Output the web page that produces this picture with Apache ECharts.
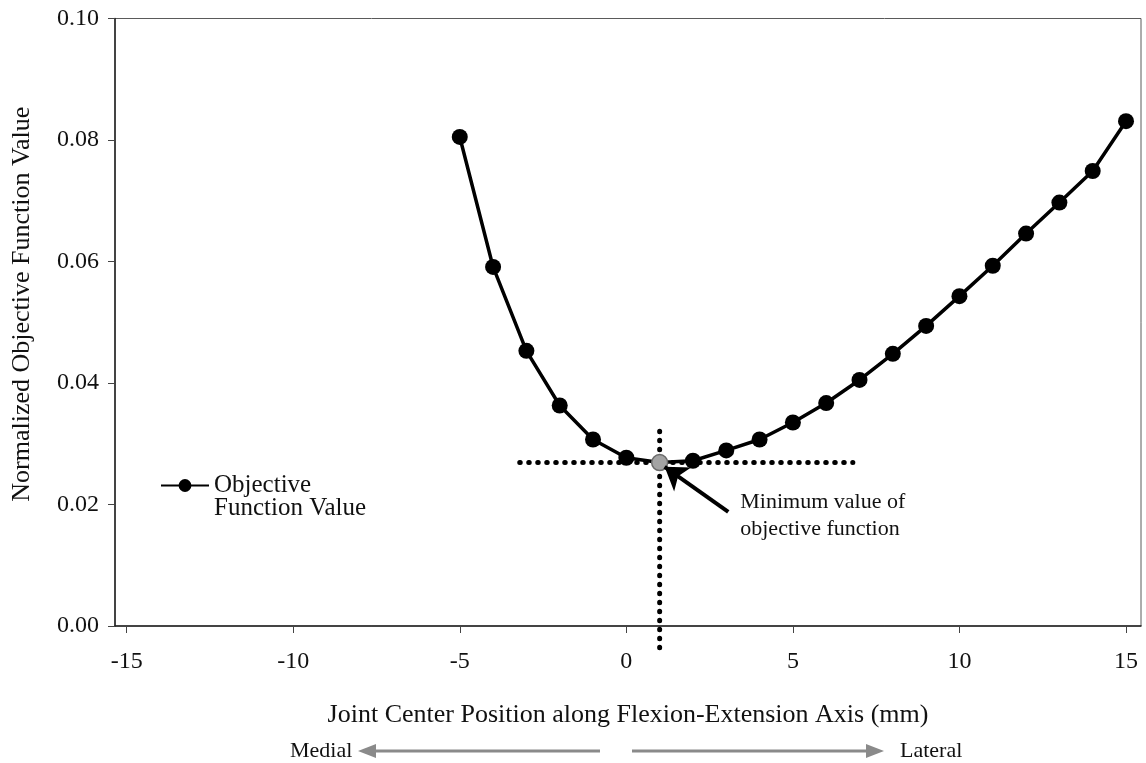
<!DOCTYPE html>
<html>
<head>
<meta charset="utf-8">
<script src="https://cdn.jsdelivr.net/npm/echarts@6/dist/echarts.min.js"></script>
<style>
  html, body { margin: 0; padding: 0; background: #ffffff; }
  #chart { width: 1146px; height: 763px; }
</style>
</head>
<body>
<div id="chart"></div>
<script>
// Joint centre offset along the flexion-extension axis (mm)
const positions = [-5, -4, -3, -2, -1, 0, 1, 2, 3, 4, 5, 6, 7, 8, 9, 10, 11, 12, 13, 14, 15];
// Normalized objective function value at each offset
const objectiveValues = [0.0805, 0.0591, 0.0453, 0.0363, 0.0307, 0.0277, 0.0269, 0.0272, 0.0289, 0.0307,
  0.0335, 0.0367, 0.0405, 0.0448, 0.0494, 0.0543, 0.0593, 0.0646, 0.0697, 0.0749, 0.0831];
// Tick labels
const xTicks = [-15, -10, -5, 0, 5, 10, 15];
const yTicks = [0, 0.02, 0.04, 0.06, 0.08, 0.10];
// Dotted guides through the minimum
const minGuideX = [-3.2, 6.8];
const minGuideY = [-0.0036, 0.0326];
// Callout arrow (tail, tip) and its text anchor
const calloutArrow = [[3.06, 0.0188], [1.15, 0.0262]];
const calloutText = [3.42, 0.0181];

const serif = '"Liberation Serif", "Times New Roman", serif';
const minIndex = objectiveValues.indexOf(Math.min(...objectiveValues));
const minX = positions[minIndex];
const minY = objectiveValues[minIndex];

const chart = echarts.init(document.getElementById('chart'), null, { renderer: 'canvas' });

const option = {
  backgroundColor: '#ffffff',
  animation: false,
  grid: {
    left: 115, right: 5, top: 18.5, bottom: 137,
    show: true, borderColor: '#5a5a5a', borderWidth: 1, backgroundColor: 'transparent'
  },
  legend: {
    left: 160, top: 450,
    padding: 0,
    itemWidth: 48, itemHeight: 16,
    data: ['Objective Function Value'],
    // blank first line keeps "Objective" level with the legend symbol
    formatter: () => ' \nObjective\nFunction Value',
    textStyle: { fontFamily: serif, fontSize: 25, color: '#111', lineHeight: 23 }
  },
  xAxis: {
    type: 'value',
    min: -15.35, max: 15.45,
    name: 'Joint Center Position along Flexion-Extension Axis (mm)',
    nameLocation: 'middle', nameGap: 76,
    nameTextStyle: { fontFamily: serif, fontSize: 26, color: '#111' },
    axisLine: { onZero: false, lineStyle: { color: '#222', width: 1.5 } },
    axisTick: { show: true, inside: false, length: 7, customValues: xTicks, lineStyle: { color: '#444' } },
    axisLabel: { customValues: xTicks, margin: 24, fontFamily: serif, fontSize: 24, color: '#111',
      formatter: v => String(Math.round(v)) },
    splitLine: { show: false }
  },
  yAxis: {
    type: 'value',
    min: 0, max: 0.1, interval: 0.02,
    name: 'Normalized Objective Function Value',
    nameLocation: 'middle', nameGap: 80, nameRotate: 90,
    nameTextStyle: { fontFamily: serif, fontSize: 26, color: '#111', padding: [0, 0, 0, 36] },
    axisLine: { show: true, onZero: false, lineStyle: { color: '#222', width: 1.5 } },
    axisTick: { show: true, inside: false, length: 7, lineStyle: { color: '#444' } },
    axisLabel: { margin: 16, fontFamily: serif, fontSize: 24, color: '#111',
      formatter: v => yTicks.reduce((a, t) => Math.abs(t - v) < Math.abs(a - v) ? t : a).toFixed(2) },
    splitLine: { show: false }
  },
  series: [
    {
      name: 'minGuideH',
      type: 'line',
      data: minGuideX.map(x => [x, minY]),
      symbol: 'none',
      clip: false,
      z: 1,
      lineStyle: { color: '#000', width: 5, type: [0.5, 8.5], cap: 'round' },
      silent: true
    },
    {
      name: 'minGuideV',
      type: 'line',
      data: minGuideY.map(y => [minX, y]),
      symbol: 'none',
      clip: false,
      z: 1,
      lineStyle: { color: '#000', width: 5, type: [0.5, 8.5], cap: 'round' },
      silent: true
    },
    {
      name: 'Objective Function Value',
      type: 'line',
      z: 3,
      data: positions.map((x, i) => ({
        value: [x, objectiveValues[i]],
        itemStyle: i === minIndex
          ? { color: '#a3a3a3', borderColor: '#6a6a6a', borderWidth: 1.5 }
          : { color: '#000', borderColor: '#000', borderWidth: 0 }
      })),
      symbol: 'circle',
      symbolSize: 16,
      showSymbol: true,
      lineStyle: { color: '#000', width: 3.5 },
      itemStyle: { color: '#000' }
    },
    {
      name: 'callout',
      type: 'lines',
      coordinateSystem: 'cartesian2d',
      z: 4,
      symbol: ['none', 'arrow'],
      symbolSize: [0, 22],
      lineStyle: { color: '#000', width: 4, opacity: 1 },
      data: [{ coords: calloutArrow }],
      silent: true
    },
    {
      name: 'calloutText',
      type: 'scatter',
      symbolSize: 0,
      data: [calloutText],
      silent: true,
      itemStyle: { opacity: 1 },
      label: {
        show: true, position: 'right', distance: 0,
        formatter: 'Minimum value of\nobjective function',
        fontFamily: serif, fontSize: 22, lineHeight: 27, color: '#111', opacity: 1, align: 'left'
      }
    }
  ],
  graphic: [
    { type: 'text', left: 290, top: 740,
      style: { text: 'Medial', font: '22px ' + serif, fill: '#111' } },
    { type: 'line', shape: { x1: 372, y1: 751, x2: 600, y2: 751 },
      style: { stroke: '#8a8a8a', lineWidth: 3 } },
    { type: 'polygon', shape: { points: [[358, 751], [376, 744], [376, 758]] },
      style: { fill: '#8a8a8a' } },
    { type: 'line', shape: { x1: 632, y1: 751, x2: 868, y2: 751 },
      style: { stroke: '#8a8a8a', lineWidth: 3 } },
    { type: 'polygon', shape: { points: [[884, 751], [866, 744], [866, 758]] },
      style: { fill: '#8a8a8a' } },
    { type: 'text', left: 900, top: 740,
      style: { text: 'Lateral', font: '22px ' + serif, fill: '#111' } }
  ]
};

chart.setOption(option);
</script>
</body>
</html>
